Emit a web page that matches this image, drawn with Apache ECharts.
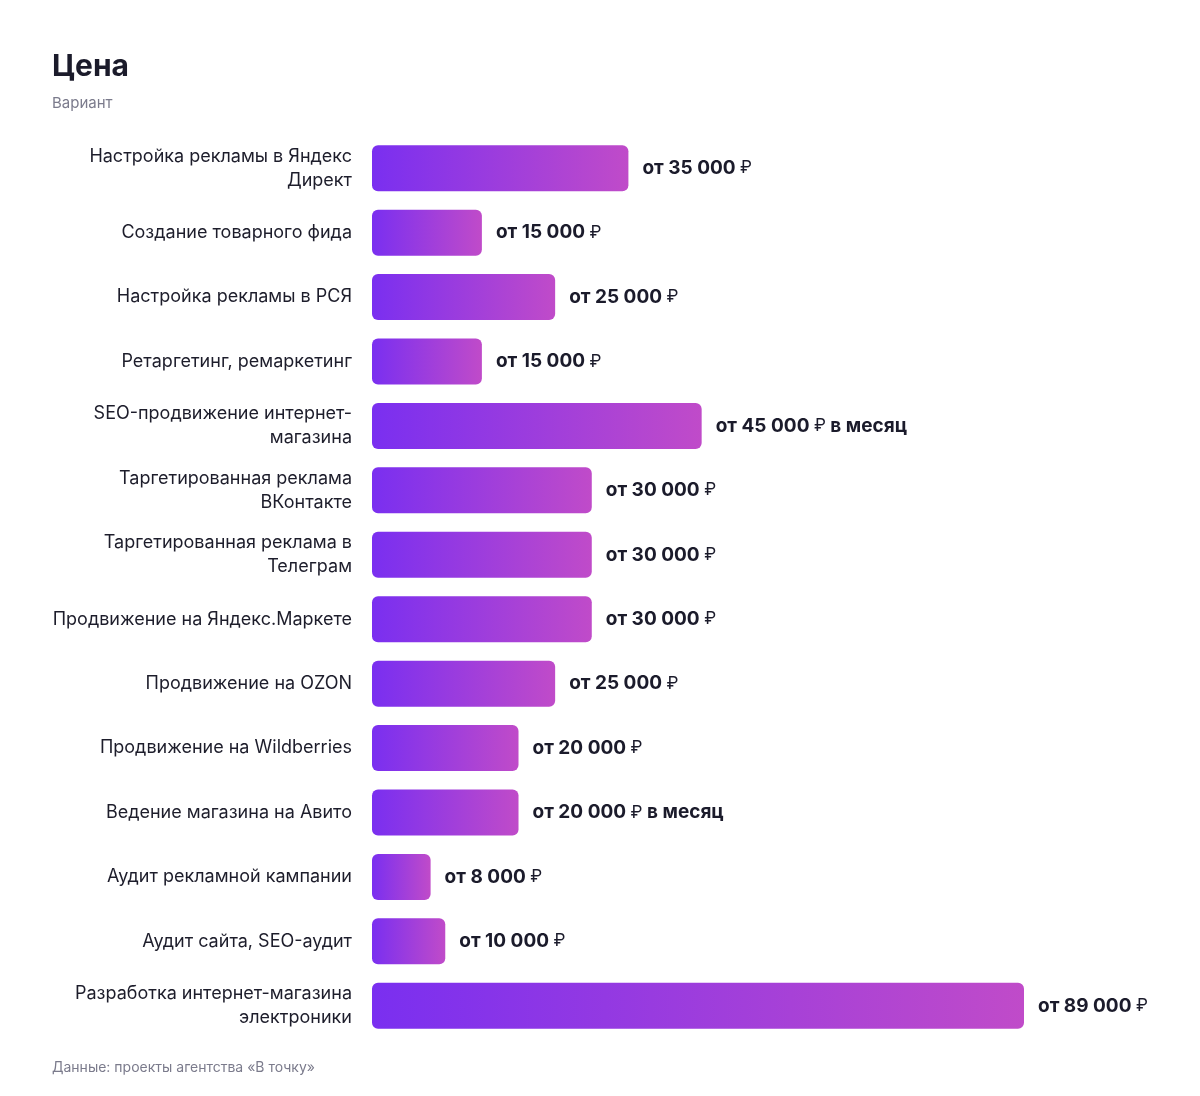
<!DOCTYPE html>
<html>
<head>
<meta charset="utf-8">
<script src="https://cdn.jsdelivr.net/npm/echarts@6/dist/echarts.min.js"></script>
<style>
  html, body { margin: 0; padding: 0; background: #fff; }
  #chart { width: 1200px; height: 1096px; }
</style>
</head>
<body>
<div id="chart"></div>
<script>
const categories = [
  'Настройка рекламы в Яндекс\nДирект',
  'Создание товарного фида',
  'Настройка рекламы в РСЯ',
  'Ретаргетинг, ремаркетинг',
  'SEO-продвижение интернет-\nмагазина',
  'Таргетированная реклама\nВКонтакте',
  'Таргетированная реклама в\nТелеграм',
  'Продвижение на Яндекс.Маркете',
  'Продвижение на OZON',
  'Продвижение на Wildberries',
  'Ведение магазина на Авито',
  'Аудит рекламной кампании',
  'Аудит сайта, SEO-аудит',
  'Разработка интернет-магазина\nэлектроники'
]
const prices = [35000, 15000, 25000, 15000, 45000, 30000, 30000, 30000, 25000, 20000, 20000, 8000, 10000, 89000]
const suffixes = ['', '', '', '', ' в месяц', '', '', '', '', '', ' в месяц', '', '', '']

const FONT = 'Inter, "Noto Sans", sans-serif'
const fmt = v => String(v).replace(/\B(?=(\d{3})+(?!\d))/g, ' ')

const chart = echarts.init(document.getElementById('chart'))
chart.setOption({
  backgroundColor: '#fff',
  textStyle: { fontFamily: FONT },
  title: [
    {
      text: 'Цена',
      left: 47,
      top: 47,
      textStyle: { fontSize: 30, fontWeight: 700, color: '#1b1b2b', fontFamily: FONT }
    },
    {
      text: 'Вариант',
      left: 47,
      top: 91,
      textStyle: { fontSize: 15, fontWeight: 400, color: '#7b7b8c', fontFamily: FONT }
    },
    {
      text: 'Данные: проекты агентства «В точку»',
      left: 47,
      top: 1056,
      textStyle: { fontSize: 14, fontWeight: 400, color: '#7b7b8c', fontFamily: FONT }
    }
  ],
  grid: {
    left: 372,
    right: 176,
    top: 136,
    bottom: 58,
    containLabel: false
  },
  xAxis: {
    type: 'value',
    min: 0,
    max: 89000,
    show: false
  },
  yAxis: {
    type: 'category',
    inverse: true,
    data: categories,
    axisLine: { show: false },
    axisTick: { show: false },
    splitLine: { show: false },
    axisLabel: {
      margin: 20,
      fontSize: 18,
      lineHeight: 24,
      color: '#1d1d2b',
      fontFamily: FONT,
      align: 'right'
    }
  },
  series: [
    {
      type: 'bar',
      data: prices,
      barWidth: 46,
      itemStyle: {
        borderRadius: 6,
        color: new echarts.graphic.LinearGradient(0, 0, 1, 0, [
          { offset: 0, color: '#7a2ff0' },
          { offset: 1, color: '#c04bc9' }
        ])
      },
      label: {
        show: true,
        position: 'right',
        distance: 14,
        fontSize: 19,
        fontWeight: 700,
        color: '#1b1b2b',
        fontFamily: FONT,
        formatter: p => '{b|от ' + fmt(p.value) + ' }{r|₽}{b|' + suffixes[p.dataIndex] + '}',
        rich: {
          b: { fontSize: 19, fontWeight: 700, color: '#1b1b2b', fontFamily: FONT },
          r: { fontSize: 17, fontWeight: 400, color: '#1b1b2b', fontFamily: FONT }
        }
      },
      emphasis: { disabled: true },
      animation: false
    }
  ]
})
</script>
</body>
</html>
